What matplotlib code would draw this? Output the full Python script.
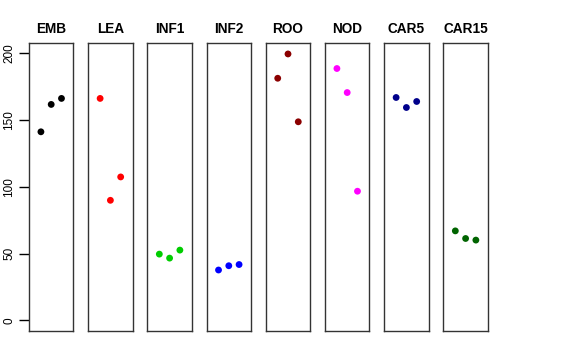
import matplotlib
matplotlib.use("Agg")
import matplotlib.pyplot as plt

plt.rcParams["font.family"] = ["Liberation Sans", "DejaVu Sans"]

groups = ["EMB", "LEA", "INF1", "INF2", "ROO", "NOD", "CAR5", "CAR15"]
colors = ["black", "red", "#00CD00", "blue", "#8B0000", "magenta", "#00008B", "#006400"]
values = [
    [141.2, 161.7, 166.2],
    [166.2, 89.9, 107.4],
    [49.6, 46.6, 52.6],
    [37.7, 40.9, 41.8],
    [181.3, 199.5, 148.7],
    [188.6, 170.6, 96.7],
    [166.9, 159.4, 163.9],
    [67.0, 61.3, 60.1],
]
reps = [1, 2, 3]
yticks = [0, 50, 100, 150, 200]

W, H = 576, 360
fig = plt.figure(figsize=(W / 100, H / 100), dpi=100)

ymax = max(max(v) for v in values)
ylo, yhi = 0 - 0.04 * ymax, ymax + 0.04 * ymax

left0, step, pw = 29.0, 59.2, 44.4
top, bottom = 43.3, 331.0

for i, (g, c, v) in enumerate(zip(groups, colors, values)):
    ax = fig.add_axes([(left0 + i * step) / W, (H - bottom) / H, pw / W, (bottom - top) / H])
    ax.scatter(reps, v, s=24, color=c, edgecolors="none", zorder=3)
    ax.set_xlim(-0.16, 4.16)
    ax.set_ylim(ylo, yhi)
    ax.set_xticks([])
    ax.set_title(g, fontsize=9.8, fontweight="bold", pad=7.5)
    for sp in ax.spines.values():
        sp.set_color("#333333")
        sp.set_linewidth(1.0)
    if i == 0:
        ax.set_yticks(yticks)
        ax.set_yticklabels([str(t) for t in yticks], rotation=90, va="center", fontsize=8.5)
        ax.tick_params(axis="y", length=7, width=1, pad=3)
    else:
        ax.set_yticks([])

fig.savefig("out.png", dpi=100)
